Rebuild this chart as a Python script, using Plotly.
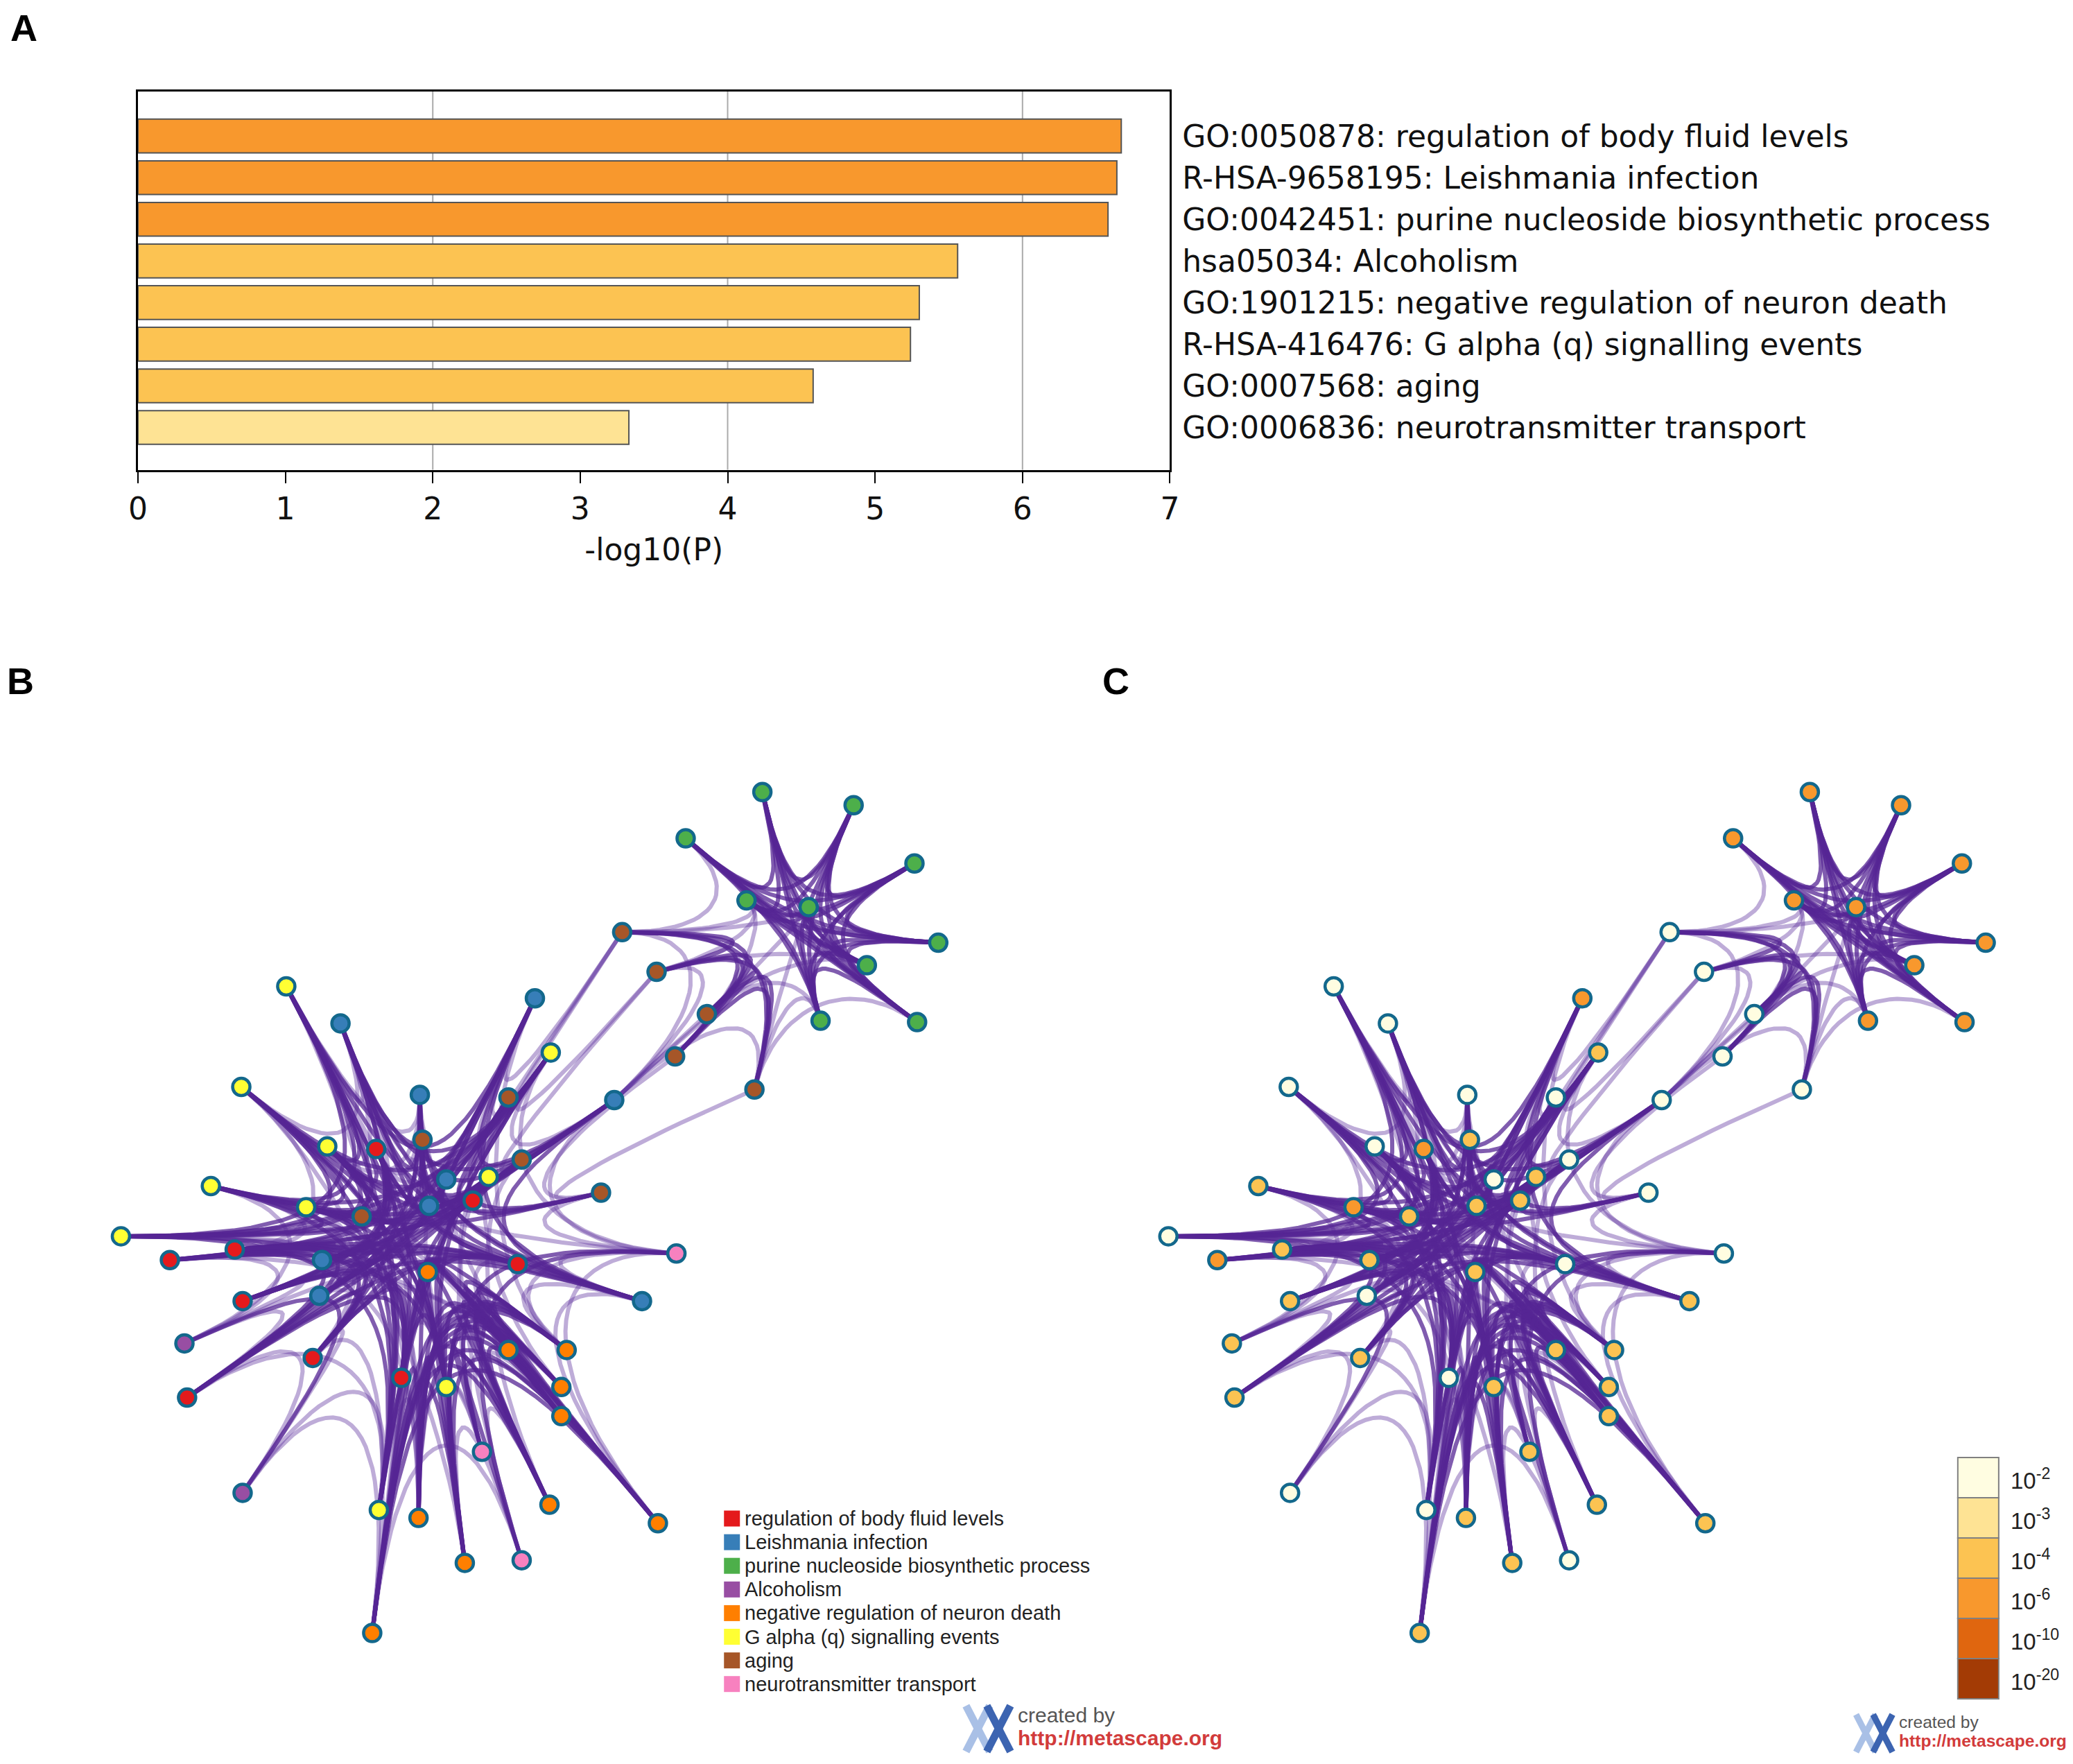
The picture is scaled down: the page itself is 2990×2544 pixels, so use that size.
import numpy as np
import plotly.graph_objects as go

W, H = 2990, 2544
S = W / 1568  # network layout units -> page pixels
OFF = 8       # default body margin of the html page
XS, XO = 1.0098, 13.2  # horizontal correction seen between page and photo

# ---------------- panel A: enrichment bars
terms = [
    "GO:0050878: regulation of body fluid levels",
    "R-HSA-9658195: Leishmania infection",
    "GO:0042451: purine nucleoside biosynthetic process",
    "hsa05034: Alcoholism",
    "GO:1901215: negative regulation of neuron death",
    "R-HSA-416476: G alpha (q) signalling events",
    "GO:0007568: aging",
    "GO:0006836: neurotransmitter transport",
]
neg_log10_p = [6.67, 6.64, 6.58, 5.56, 5.30, 5.24, 4.58, 3.33]

# p-value colour bins (10^-x), shared by bars and panel C
bin_exp = [2, 3, 4, 6, 10, 20]
bin_color = ["#FFFDE1", "#FEE394", "#FCC352", "#F8982D", "#E0660F", "#A33B05"]

# ---------------- panels B/C: term network
term_names = [
    "regulation of body fluid levels",
    "Leishmania infection",
    "purine nucleoside biosynthetic process",
    "Alcoholism",
    "negative regulation of neuron death",
    "G alpha (q) signalling events",
    "aging",
    "neurotransmitter transport",
]
term_colors = ["#E41A1C", "#377EB8", "#4DAF4A", "#984EA3",
               "#FF7F00", "#FFFF33", "#A65628", "#F781BF"]

node_id = ["g0", "g1", "g2", "g3", "g4", "g5", "g6", "g7", "g8", "g9",
           "b0", "b1", "b2", "b3", "b4", "b5", "b6", "b7", "b8", "b9",
           "L0", "L1", "L2", "L3", "L4", "L5", "L6", "L7", "L8",
           "y0", "y1", "y2", "y3", "y4", "y5", "y6", "y7", "y8", "y9",
           "r0", "r1", "r2", "r3", "r4", "r5", "r6", "r7", "r8",
           "p0", "p1",
           "o0", "o1", "o2", "o3", "o4", "o5", "o6", "o7", "o8", "o9",
           "k0", "k1", "k2"]
node_x = [576, 645, 518, 691, 564, 611, 709, 655, 620, 693,
          470, 496, 534, 510, 570, 384, 319, 394, 454, 273,
          257, 404, 317, 464, 337, 324, 243, 241, 485,
          216, 182, 416, 247, 159, 369, 231, 91, 337, 286,
          284, 357, 128, 177, 391, 183, 236, 141, 303,
          139, 183,
          323, 384, 428, 424, 424, 316, 415, 497, 351, 281,
          511, 364, 394]
node_y = [599, 609, 634, 653, 681, 686, 713, 730, 772, 773,
          705, 735, 767, 799, 824, 830, 862, 877, 902, 920,
          774, 755, 828, 832, 892, 912, 953, 980, 984,
          746, 822, 796, 867, 897, 890, 913, 935, 1049, 1142,
          869, 908, 953, 945, 956, 984, 1027, 1057, 1042,
          1016, 1129,
          962, 1021, 1021, 1049, 1071, 1148, 1138, 1152, 1182, 1235,
          948, 1098, 1180]
node_term = [2] * 10 + [6] * 10 + [1] * 9 + [5] * 10 + [0] * 9 + [3] * 2 + [4] * 10 + [7] * 3
node_pbin = [6, 6, 6, 6, 6, 6, 6, 6, 6, 6,
             2, 2, 2, 2, 2, 2, 4, 2, 2, 4,
             2, 6, 2, 2, 2, 4, 4, 2, 4,
             2, 2, 4, 2, 4, 4, 6, 2, 4, 2,
             6, 4, 6, 4, 2, 4, 4, 4, 2,
             4, 2,
             4, 4, 4, 4, 4, 4, 4, 4, 4, 4,
             2, 4, 2]

# tightly linked groups (every pair joined) and looser cross links
cliques = [
    ["g0", "g1", "g2", "g3", "g4", "g5", "g6", "g7", "g8", "g9"],
    ["b0", "b1", "b2", "b3", "b4"],
    ["b5", "b6", "b7", "b8", "b9"],
    ["L0", "L1", "L2", "L3", "L4", "L5", "L6", "L7", "L8"],
    ["y0", "y1", "y2", "y3", "y4", "y5", "y6", "y7", "y8", "y9"],
    ["r0", "r1", "r2", "r3", "r4", "r5", "r6", "r7", "r8"],
    ["o0", "o1", "o2", "o3", "o4", "o5", "o6", "o7", "o8", "o9"],
    ["k0", "k1", "k2"],
    ["p0", "p1"],
]
cross_links = [
    ("b0", "g2"), ("b0", "g4"), ("b0", "g5"), ("b1", "g4"), ("b1", "g7"), ("b2", "g5"),
    ("b2", "g8"), ("b3", "g4"), ("b4", "g5"), ("b4", "g8"), ("b4", "g9"), ("b2", "g7"),
    ("b0", "L1"), ("b0", "y2"), ("b0", "b5"), ("b1", "b7"), ("b1", "L3"), ("b2", "L3"),
    ("b3", "L3"), ("b3", "b8"), ("b4", "L3"), ("b4", "b8"), ("b1", "y2"), ("b0", "L3"),
    ("L0", "y0"), ("L0", "y1"), ("L0", "y3"), ("L1", "y2"), ("L1", "b5"), ("L2", "b6"),
    ("L2", "y3"), ("L2", "r0"), ("L3", "y2"), ("L4", "y5"), ("L4", "r1"), ("L5", "o0"),
    ("L5", "r0"), ("L6", "r2"), ("L6", "r3"), ("L6", "y6"), ("L6", "y4"), ("L7", "r5"),
    ("L7", "r6"), ("L7", "p0"), ("L8", "k0"), ("L8", "o2"), ("L8", "o7"),
    ("y7", "r2"), ("y7", "r3"), ("y4", "r3"), ("y6", "b9"), ("y3", "r0"), ("y5", "r1"),
    ("y5", "b7"), ("y8", "o0"), ("y8", "o1"), ("y9", "o5"), ("y9", "o9"), ("y9", "p1"),
    ("y8", "r8"), ("r2", "p0"), ("r5", "p0"), ("r7", "p0"), ("r7", "p1"), ("r6", "p1"),
    ("r8", "o5"), ("r8", "o9"), ("r4", "o1"), ("r4", "o0"), ("r1", "b7"), ("r0", "b6"),
    ("r0", "b9"), ("o1", "k1"), ("o5", "k1"), ("o8", "k1"), ("o8", "k2"), ("o6", "k2"),
    ("o2", "k0"), ("o7", "k0"), ("o4", "k1"), ("o9", "p1"), ("o9", "k2"),
    ("b6", "L4"), ("b7", "L4"), ("b9", "L6"), ("b5", "y2"), ("k0", "b8"), ("k0", "L3"),
    ("y0", "r0"), ("y0", "L2"), ("y1", "r3"), ("L0", "r0"), ("L0", "b6"), ("y2", "k0"),
    ("L1", "o2"), ("y0", "o5"), ("y1", "o8"), ("y7", "o0"), ("r2", "o1"), ("r3", "o3"),
    ("L6", "o0"), ("L7", "o5"), ("r6", "o9"), ("r7", "y9"), ("L2", "o4"), ("b5", "o3"),
    ("b7", "o6"), ("L4", "o8"), ("y5", "k1"), ("r1", "k2"), ("L5", "k0"), ("b9", "o1"),
    ("y3", "o7"), ("y4", "p0"), ("y6", "r6"), ("r0", "o5"),
]


def fx(x):
    return ((x - XO) * XS - OFF) / W


def fy(y):
    return 1 - (y - OFF) / H


def px(x, y):
    return fx(x), fy(y)


def bar_color(v):
    k = 0
    for i, e in enumerate(bin_exp):
        if v >= e:
            k = i
    return bin_color[k]


idx = {n: i for i, n in enumerate(node_id)}
strong = []
for grp in cliques:
    for a in range(len(grp)):
        for b in range(a + 1, len(grp)):
            strong.append((idx[grp[a]], idx[grp[b]]))
seen = set(strong)
weak = []
for a, b in cross_links:
    e = (idx[a], idx[b])
    if e not in seen and e[::-1] not in seen:
        weak.append(e)
        seen.add(e)

core_hub = np.array([318.0, 935.0])
arm_hub = np.array([600.0, 706.0])


def in_arm(i):
    return node_x[i] > 440 and node_y[i] < 845


def bundle(pairs, pull):
    t = np.linspace(0, 1, 28)[:, None]
    ex, ey = [], []
    for i, j in pairs:
        p0 = np.array([node_x[i], node_y[i]], float)
        p1 = np.array([node_x[j], node_y[j]], float)
        hub = arm_hub if (in_arm(i) and in_arm(j)) else core_hub
        c1 = p0 + pull * (hub - p0)
        c2 = p1 + pull * (hub - p1)
        pts = (1 - t) ** 3 * p0 + 3 * (1 - t) ** 2 * t * c1 + 3 * (1 - t) * t ** 2 * c2 + t ** 3 * p1
        ex += list(pts[:, 0]) + [None]
        ey += list(pts[:, 1]) + [None]
    return ex, ey


fig = go.Figure()

# A
fig.add_trace(go.Bar(
    x=neg_log10_p, y=terms, orientation="h", width=0.81,
    marker=dict(color=[bar_color(v) for v in neg_log10_p], line=dict(color="#555555", width=2)),
    xaxis="x", yaxis="y", showlegend=False,
))

# B and C networks
wx, wy = bundle(weak, 0.55)
sx, sy = bundle(strong, 0.8)
node_fill_b = [term_colors[t] for t in node_term]
node_fill_c = [bin_color[bin_exp.index(p)] for p in node_pbin]
for ax, ay, fills in [("x2", "y2", node_fill_b), ("x3", "y3", node_fill_c)]:
    fig.add_trace(go.Scatter(x=wx, y=wy, mode="lines", xaxis=ax, yaxis=ay,
                             line=dict(color="rgba(92,48,158,0.4)", width=6),
                             hoverinfo="skip", showlegend=False))
    fig.add_trace(go.Scatter(x=sx, y=sy, mode="lines", xaxis=ax, yaxis=ay,
                             line=dict(color="rgba(86,38,148,0.75)", width=6),
                             hoverinfo="skip", showlegend=False))
    fig.add_trace(go.Scatter(x=node_x, y=node_y, mode="markers", xaxis=ax, yaxis=ay,
                             marker=dict(size=25, color=fills, line=dict(color="#13688C", width=4.5)),
                             hoverinfo="skip", showlegend=False))

shapes = []
annotations = []

for v in [2, 4, 6]:
    shapes.append(dict(type="line", xref="x", yref="y domain", x0=v, x1=v, y0=0, y1=1,
                       line=dict(color="#AAAAAA", width=2), layer="below"))

# panel letters (A kept just inside the top edge)
letter_font = dict(family="Liberation Sans", size=54, color="black")
annotations.append(dict(text="<b>A</b>", x=fx(34), y=1, xref="paper", yref="paper",
                        xanchor="center", yanchor="top", showarrow=False, font=letter_font))
for letter, (lx, ly) in zip("BC", [(29, 982), (1608, 982)]):
    x, y = px(lx, ly)
    annotations.append(dict(text="<b>%s</b>" % letter, x=x, y=y, xref="paper", yref="paper",
                            xanchor="center", yanchor="middle", showarrow=False, font=letter_font))

# B legend
for k, (name, col) in enumerate(zip(term_names, term_colors)):
    yc = 2190 + 34.1 * k
    x0, y0 = px(1043, yc + 11.5)
    x1, y1 = px(1066, yc - 11.5)
    shapes.append(dict(type="rect", xref="paper", yref="paper", x0=x0, x1=x1, y0=y0, y1=y1,
                       fillcolor=col, line=dict(width=0)))
    x, y = px(1071, yc)
    annotations.append(dict(text=name, x=x, y=y, xref="paper", yref="paper", xanchor="left",
                            yanchor="middle", showarrow=False,
                            font=dict(family="Liberation Sans", size=29, color="#222222")))

# C colour key
for k, (e, col) in enumerate(zip(bin_exp, bin_color)):
    top = 2102 + 58 * k
    x0, y0 = px(2822, top + 58)
    x1, y1 = px(2881, top)
    shapes.append(dict(type="rect", xref="paper", yref="paper", x0=x0, x1=x1, y0=y0, y1=y1,
                       fillcolor=col, line=dict(color="#808080", width=2)))
    x, y = px(2896, top + 31)
    annotations.append(dict(text="10<sup>-%d</sup>" % e, x=x, y=y, xref="paper", yref="paper",
                            xanchor="left", yanchor="middle", showarrow=False,
                            font=dict(family="Liberation Sans", size=33, color="#222222")))


# metascape watermarks
def watermark(x0, y0, sc):
    for dx, col in [(0, "#A9C0E6"), (30, "#3C64B1")]:
        for a, b in [((4, 2), (38, 68)), ((38, 2), (4, 68))]:
            xa, ya = px(x0 + (dx + a[0]) * sc, y0 + a[1] * sc)
            xb, yb = px(x0 + (dx + b[0]) * sc, y0 + b[1] * sc)
            shapes.append(dict(type="line", xref="paper", yref="paper", x0=xa, y0=ya, x1=xb, y1=yb,
                               line=dict(color=col, width=11 * sc)))
    x, y = px(x0 + 77 * sc, y0 + 15 * sc)
    annotations.append(dict(text="created by", x=x, y=y, xref="paper", yref="paper", xanchor="left",
                            yanchor="middle", showarrow=False,
                            font=dict(family="Liberation Sans", size=30 * sc, color="#555555")))
    x, y = px(x0 + 77 * sc, y0 + 48 * sc)
    annotations.append(dict(text="<b>http://metascape.org</b>", x=x, y=y, xref="paper", yref="paper",
                            xanchor="left", yanchor="middle", showarrow=False,
                            font=dict(family="Liberation Sans", size=30 * sc, color="#D23B3B")))


watermark(1388, 2458, 1.0)
watermark(2672, 2471, 0.82)

net_x = [60, 760]
net_y = [1300, 560]
shift_c = 792


def net_axes(dx):
    xd = [fx((net_x[0] + dx) * S), fx((net_x[1] + dx) * S)]
    yd = [fy(net_y[0] * S), fy(net_y[1] * S)]
    xa = dict(domain=xd, range=[net_x[0], net_x[1]], visible=False, fixedrange=True)
    ya = dict(domain=yd, range=net_y, visible=False, fixedrange=True)
    return xa, ya


x2, y2 = net_axes(0)
x3, y3 = net_axes(shift_c)
x2["anchor"], y2["anchor"] = "y2", "x2"
x3["anchor"], y3["anchor"] = "y3", "x3"

fig.update_layout(
    width=W, height=H, margin=dict(l=0, r=0, t=0, b=0),
    paper_bgcolor="white", plot_bgcolor="white",
    font=dict(family="DejaVu Sans", color="#111111"),
    xaxis=dict(domain=[fx(198), fx(1686)], range=[0, 7], dtick=1, tick0=0, anchor="y",
               ticks="outside", ticklen=16, tickwidth=2, tickcolor="black",
               showline=True, linewidth=3, linecolor="black", mirror=True,
               showgrid=False, zeroline=False, tickfont=dict(family="DejaVu Sans", size=44),
               title=dict(text="-log10(P)", font=dict(family="DejaVu Sans", size=44), standoff=19)),
    yaxis=dict(domain=[fy(677.5), fy(131.7)], side="right", anchor="x",
               type="category", categoryarray=terms, range=[8.016, -1.074],
               showline=True, linewidth=3, linecolor="black", mirror=True, ticks="",
               showgrid=False, tickfont=dict(family="DejaVu Sans", size=44), ticklabelstandoff=6),
    xaxis2=x2, yaxis2=y2, xaxis3=x3, yaxis3=y3,
    shapes=shapes, annotations=annotations,
)

fig.write_html("out.html")
